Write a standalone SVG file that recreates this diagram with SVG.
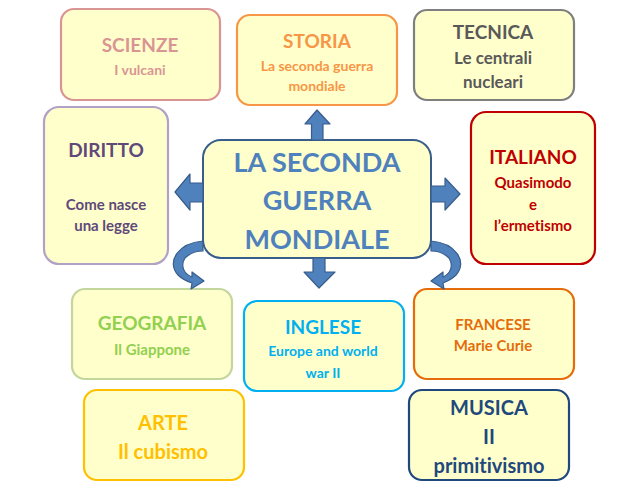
<svg xmlns="http://www.w3.org/2000/svg" width="640" height="491" viewBox="0 0 640 491">
<style>
.box{fill:#ffffcc;stroke-width:2.2}
text{font-family:Lato,"Open Sans","Liberation Sans",sans-serif;font-weight:700;text-anchor:middle;font-variant-ligatures:none}
.arr{fill:#4f81bd;stroke:#385d8a;stroke-width:1.2;stroke-linejoin:round}
</style>
<rect width="640" height="491" fill="#ffffff"/>
<g id="scienze">
<rect class="box" x="61" y="9" width="159" height="91" rx="13" stroke="#d99594"/>
<text x="140" y="52" font-size="19" fill="#d99594">SCIENZE</text>
<text x="140" y="75" font-size="14" fill="#d99594">I vulcani</text>
</g>
<g id="storia">
<rect class="box" x="237" y="15" width="160" height="90" rx="13" stroke="#f79646"/>
<text x="317" y="48" font-size="19" fill="#f79646">STORIA</text>
<text x="317" y="71" font-size="14" fill="#f79646">La seconda guerra</text>
<text x="317" y="91" font-size="14" fill="#f79646">mondiale</text>
</g>
<g id="tecnica">
<rect class="box" x="414" y="10" width="160" height="90" rx="13" stroke="#7f7f7f"/>
<text x="493" y="39" font-size="19" fill="#595959">TECNICA</text>
<text x="493" y="64" font-size="17" fill="#595959">Le centrali</text>
<text x="493" y="88" font-size="17" fill="#595959">nucleari</text>
</g>
<g id="diritto">
<rect class="box" x="44" y="107" width="124" height="157" rx="15" stroke="#b2a1c7"/>
<text x="106" y="157" font-size="19" fill="#5f497a">DIRITTO</text>
<text x="106" y="210" font-size="15" fill="#5f497a">Come nasce</text>
<text x="106" y="231" font-size="15" fill="#5f497a">una legge</text>
</g>
<g id="centro">
<rect x="203" y="140" width="228" height="118" rx="18" fill="#ffffcc" stroke="#385d8a" stroke-width="2"/>
<text x="317" y="172" font-size="27" fill="#4f81bd">LA SECONDA</text>
<text x="317" y="210" font-size="27" fill="#4f81bd">GUERRA</text>
<text x="317" y="249" font-size="27" fill="#4f81bd">MONDIALE</text>
</g>
<g id="italiano">
<rect class="box" x="471" y="112" width="124" height="152" rx="15" stroke="#c00000"/>
<text x="533" y="164" font-size="19" fill="#c00000">ITALIANO</text>
<text x="533" y="188" font-size="15" fill="#c00000">Quasimodo</text>
<text x="533" y="210" font-size="15" fill="#c00000">e</text>
<text x="533" y="231" font-size="15" fill="#c00000">l’ermetismo</text>
</g>
<g id="geografia">
<rect class="box" x="72" y="289" width="160" height="90" rx="13" stroke="#c3d69b"/>
<text x="152" y="330" font-size="19" fill="#92d050">GEOGRAFIA</text>
<text x="152" y="355" font-size="15" fill="#92d050">Il Giappone</text>
</g>
<g id="inglese">
<rect class="box" x="244" y="301" width="160" height="90" rx="13" stroke="#00b0f0"/>
<text x="323" y="334" font-size="19" fill="#00b0f0">INGLESE</text>
<text x="323" y="356" font-size="14" fill="#00b0f0">Europe and world</text>
<text x="323" y="378" font-size="14" fill="#00b0f0">war II</text>
</g>
<g id="francese">
<rect class="box" x="414" y="289" width="160" height="90" rx="13" stroke="#e46c0a"/>
<text x="493" y="330" font-size="15" fill="#e46c0a">FRANCESE</text>
<text x="493" y="351" font-size="15" fill="#e46c0a">Marie Curie</text>
</g>
<g id="arte">
<rect class="box" x="84" y="390" width="160" height="90" rx="13" stroke="#ffc000"/>
<text x="163" y="430" font-size="20" fill="#ffc000">ARTE</text>
<text x="163" y="459" font-size="20" fill="#ffc000">Il cubismo</text>
</g>
<g id="musica">
<rect class="box" x="409" y="390" width="160" height="90" rx="13" stroke="#1f497d"/>
<text x="489" y="415" font-size="20" fill="#1f497d">MUSICA</text>
<text x="489" y="444" font-size="20" fill="#1f497d">II</text>
<text x="489" y="473" font-size="20" fill="#1f497d">primitivismo</text>
</g>
<g id="connectors">
<polygon class="arr" points="311.5,140 311.5,124 305,124 317,110 330,124 323,124 323,140"/>
<polygon class="arr" points="203,183 190,183 190,174 175,192 190,210 190,202 203,202"/>
<polygon class="arr" points="431,186 445,186 445,178 460,194 445,210 445,202 431,202"/>
<polygon class="arr" points="313,258 313,272 304,272 319,288 335,272 325,272 325,258"/>
<path class="arr" d="M203,241 C178,243 166,262 178,275 C182,279 186,281 192,283 L191,289 L204,281 L192,272 L192,277 C184,274 180,266 185,258 C190,253 196,251 203,251 Z"/>
<path class="arr" d="M431,241 C456,243 468,262 456,275 C452,279 448,281 443,283 L444,289 L431,281 L443,272 L443,277 C450,274 454,266 449,258 C444,253 438,251 431,251 Z"/>
</g>
</svg>
